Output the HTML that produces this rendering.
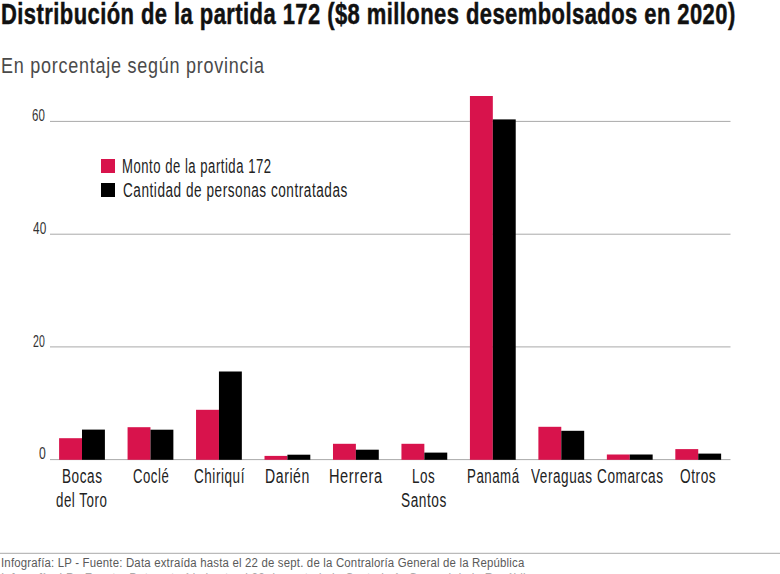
<!DOCTYPE html>
<html><head><meta charset="utf-8"><style>
html,body{margin:0;padding:0;background:#fff;width:780px;height:574px;overflow:hidden;position:relative}
.t{position:absolute;white-space:nowrap;line-height:1;font-family:"Liberation Sans",sans-serif;transform-origin:0 0}
</style></head><body>
<svg width="780" height="574" style="position:absolute;left:0;top:0"><rect x="50" y="120.90" width="680.5" height="1" fill="#aaa"/><rect x="50" y="233.70" width="680.5" height="1" fill="#aaa"/><rect x="50" y="346.40" width="680.5" height="1" fill="#aaa"/><rect x="50" y="459.10" width="680.5" height="1" fill="#aaa"/><rect x="0" y="552.8" width="780" height="1" fill="#aaa"/><rect x="101" y="159" width="14" height="14" fill="#d8134c"/><rect x="101" y="183" width="14" height="14" fill="#000"/><rect x="59.10" y="438.2" width="22.9" height="21.60" fill="#d8134c"/><rect x="82.00" y="429.6" width="22.9" height="30.20" fill="#000"/><rect x="127.57" y="427.2" width="22.9" height="32.60" fill="#d8134c"/><rect x="150.47" y="429.7" width="22.9" height="30.10" fill="#000"/><rect x="196.04" y="409.8" width="22.9" height="50.00" fill="#d8134c"/><rect x="218.94" y="371.5" width="22.9" height="88.30" fill="#000"/><rect x="264.51" y="455.9" width="22.9" height="3.90" fill="#d8134c"/><rect x="287.41" y="454.7" width="22.9" height="5.10" fill="#000"/><rect x="332.98" y="443.8" width="22.9" height="16.00" fill="#d8134c"/><rect x="355.88" y="449.7" width="22.9" height="10.10" fill="#000"/><rect x="401.45" y="443.8" width="22.9" height="16.00" fill="#d8134c"/><rect x="424.35" y="452.6" width="22.9" height="7.20" fill="#000"/><rect x="469.92" y="96" width="22.9" height="363.80" fill="#d8134c"/><rect x="492.82" y="119.4" width="22.9" height="340.40" fill="#000"/><rect x="538.39" y="426.8" width="22.9" height="33.00" fill="#d8134c"/><rect x="561.29" y="430.8" width="22.9" height="29.00" fill="#000"/><rect x="606.86" y="454.5" width="22.9" height="5.30" fill="#d8134c"/><rect x="629.76" y="454.5" width="22.9" height="5.30" fill="#000"/><rect x="675.33" y="449.1" width="22.9" height="10.70" fill="#d8134c"/><rect x="698.23" y="453.6" width="22.9" height="6.20" fill="#000"/></svg>
<div class="t" style="left:1.19px;top:-1.19px;font-size:30px;font-weight:700;color:#111;transform:scaleX(0.7323);letter-spacing:0.6px;-webkit-text-stroke:0.5px #111;">Distribución de la partida 172 ($8 millones desembolsados en 2020)</div>
<div class="t" style="left:0.71px;top:55.90px;font-size:21.5px;font-weight:400;color:#4a4a4a;transform:scaleX(0.8367);letter-spacing:0.9px;">En porcentaje según provincia</div>
<div class="t" style="left:32.40px;top:108.24px;font-size:15.9px;font-weight:400;color:#333;transform:scaleX(0.7232);letter-spacing:0.3px;">60</div>
<div class="t" style="left:33.00px;top:221.14px;font-size:15.9px;font-weight:400;color:#333;transform:scaleX(0.7419);letter-spacing:0.3px;">40</div>
<div class="t" style="left:33.37px;top:333.94px;font-size:15.9px;font-weight:400;color:#333;transform:scaleX(0.6627);letter-spacing:0.3px;">20</div>
<div class="t" style="left:39.37px;top:446.14px;font-size:15.9px;font-weight:400;color:#333;transform:scaleX(0.7688);letter-spacing:0.3px;">0</div>
<div class="t" style="left:121.98px;top:155.67px;font-size:20px;font-weight:400;color:#222;transform:scaleX(0.6543);letter-spacing:0.8px;">Monto de la partida 172</div>
<div class="t" style="left:123.00px;top:179.97px;font-size:20px;font-weight:400;color:#222;transform:scaleX(0.6785);letter-spacing:0.8px;">Cantidad de personas contratadas</div>
<div class="t" style="left:62.15px;top:467.09px;font-size:19.5px;font-weight:400;color:#222;transform:scaleX(0.6953);letter-spacing:0.8px;">Bocas</div>
<div class="t" style="left:56.29px;top:491.29px;font-size:19.5px;font-weight:400;color:#222;transform:scaleX(0.6812);letter-spacing:0.8px;">del Toro</div>
<div class="t" style="left:133.00px;top:467.09px;font-size:19.5px;font-weight:400;color:#222;transform:scaleX(0.6730);letter-spacing:0.8px;">Coclé</div>
<div class="t" style="left:194.00px;top:467.09px;font-size:19.5px;font-weight:400;color:#222;transform:scaleX(0.6921);letter-spacing:0.8px;">Chiriquí</div>
<div class="t" style="left:264.86px;top:467.09px;font-size:19.5px;font-weight:400;color:#222;transform:scaleX(0.7214);letter-spacing:0.8px;">Darién</div>
<div class="t" style="left:329.19px;top:467.09px;font-size:19.5px;font-weight:400;color:#222;transform:scaleX(0.7474);letter-spacing:0.8px;">Herrera</div>
<div class="t" style="left:412.41px;top:467.09px;font-size:19.5px;font-weight:400;color:#222;transform:scaleX(0.6888);letter-spacing:0.8px;">Los</div>
<div class="t" style="left:400.93px;top:491.29px;font-size:19.5px;font-weight:400;color:#222;transform:scaleX(0.7009);letter-spacing:0.8px;">Santos</div>
<div class="t" style="left:466.86px;top:467.09px;font-size:19.5px;font-weight:400;color:#222;transform:scaleX(0.6796);letter-spacing:0.8px;">Panamá</div>
<div class="t" style="left:531.13px;top:467.09px;font-size:19.5px;font-weight:400;color:#222;transform:scaleX(0.6940);letter-spacing:0.8px;">Veraguas</div>
<div class="t" style="left:596.90px;top:467.09px;font-size:19.5px;font-weight:400;color:#222;transform:scaleX(0.6982);letter-spacing:0.8px;">Comarcas</div>
<div class="t" style="left:680.30px;top:467.09px;font-size:19.5px;font-weight:400;color:#222;transform:scaleX(0.7010);letter-spacing:0.8px;">Otros</div>
<div class="t" style="left:0.63px;top:556.84px;font-size:12px;font-weight:400;color:#5a5a5a;transform:scaleX(0.9500);letter-spacing:0.2px;">Infografía: LP - Fuente: Data extraída hasta el 22 de sept. de la Contraloría General de la República</div>
<div class="t" style="left:0.71px;top:572.04px;font-size:12px;font-weight:400;color:#aaa;transform:scaleX(0.9755);letter-spacing:0.2px;">Infografía: LP - Fuente: Data extraída hasta el 22 de sept. de la Contraloría General de la República</div>
</body></html>
